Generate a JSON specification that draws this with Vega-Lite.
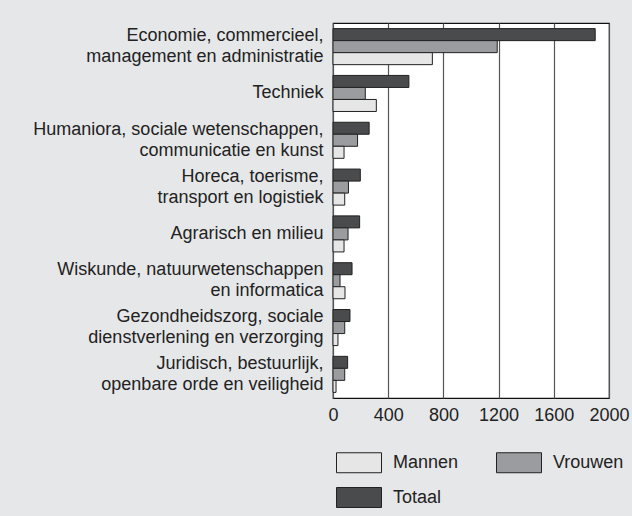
{
  "$schema": "https://vega.github.io/schema/vega-lite/v6.json",
  "autosize": {"type": "none"},
  "width": 276,
  "height": 375,
  "padding": {"left": 333, "top": 23, "right": 23, "bottom": 118},
  "background": "#e6e7e9",
  "config": {
    "font": "Liberation Sans",
    "view": {"stroke": "#111", "strokeWidth": 1.2, "fill": "white"}
  },
  "data": {
    "values": [
      {"sector": "Economie, commercieel,|management en administratie", "groep": "Totaal", "aantal": 1900},
      {"sector": "Economie, commercieel,|management en administratie", "groep": "Vrouwen", "aantal": 1190},
      {"sector": "Economie, commercieel,|management en administratie", "groep": "Mannen", "aantal": 720},
      {"sector": "Techniek", "groep": "Totaal", "aantal": 550},
      {"sector": "Techniek", "groep": "Vrouwen", "aantal": 234},
      {"sector": "Techniek", "groep": "Mannen", "aantal": 314},
      {"sector": "Humaniora, sociale wetenschappen,|communicatie en kunst", "groep": "Totaal", "aantal": 262},
      {"sector": "Humaniora, sociale wetenschappen,|communicatie en kunst", "groep": "Vrouwen", "aantal": 178},
      {"sector": "Humaniora, sociale wetenschappen,|communicatie en kunst", "groep": "Mannen", "aantal": 80},
      {"sector": "Horeca, toerisme,|transport en logistiek", "groep": "Totaal", "aantal": 198},
      {"sector": "Horeca, toerisme,|transport en logistiek", "groep": "Vrouwen", "aantal": 112},
      {"sector": "Horeca, toerisme,|transport en logistiek", "groep": "Mannen", "aantal": 85},
      {"sector": "Agrarisch en milieu", "groep": "Totaal", "aantal": 193},
      {"sector": "Agrarisch en milieu", "groep": "Vrouwen", "aantal": 109},
      {"sector": "Agrarisch en milieu", "groep": "Mannen", "aantal": 80},
      {"sector": "Wiskunde, natuurwetenschappen|en informatica", "groep": "Totaal", "aantal": 138},
      {"sector": "Wiskunde, natuurwetenschappen|en informatica", "groep": "Vrouwen", "aantal": 51},
      {"sector": "Wiskunde, natuurwetenschappen|en informatica", "groep": "Mannen", "aantal": 87},
      {"sector": "Gezondheidszorg, sociale|dienstverlening en verzorging", "groep": "Totaal", "aantal": 123},
      {"sector": "Gezondheidszorg, sociale|dienstverlening en verzorging", "groep": "Vrouwen", "aantal": 85},
      {"sector": "Gezondheidszorg, sociale|dienstverlening en verzorging", "groep": "Mannen", "aantal": 36},
      {"sector": "Juridisch, bestuurlijk,|openbare orde en veiligheid", "groep": "Totaal", "aantal": 106},
      {"sector": "Juridisch, bestuurlijk,|openbare orde en veiligheid", "groep": "Vrouwen", "aantal": 85},
      {"sector": "Juridisch, bestuurlijk,|openbare orde en veiligheid", "groep": "Mannen", "aantal": 22}
    ]
  },
  "mark": {"type": "bar", "stroke": "#222", "strokeWidth": 1},
  "encoding": {
    "y": {
      "field": "sector",
      "type": "nominal",
      "sort": null,
      "scale": {"paddingInner": 0.23, "paddingOuter": 0.12},
      "axis": {
        "title": null,
        "ticks": false,
        "domain": false,
        "labelExpr": "split(datum.label, '|')",
        "labelFontSize": 18,
        "labelColor": "#222",
        "labelPadding": 10,
        "labelLineHeight": 21,
        "labelLimit": 400,
        "labelOffset": {"condition": {"test": "indexof(datum.value, '|') >= 0", "value": -10.5}, "value": 0}
      }
    },
    "yOffset": {
      "field": "groep",
      "type": "nominal",
      "scale": {"domain": ["Totaal", "Vrouwen", "Mannen"], "paddingInner": 0, "paddingOuter": 0}
    },
    "x": {
      "field": "aantal",
      "type": "quantitative",
      "scale": {"domain": [0, 2000], "nice": false},
      "axis": {
        "title": null,
        "values": [0, 400, 800, 1200, 1600, 2000],
        "format": "d",
        "ticks": false,
        "domain": false,
        "gridColor": "#555",
        "gridOpacity": 1,
        "gridWidth": 1.2,
        "labelFontSize": 18,
        "labelColor": "#222",
        "labelPadding": 8,
        "labelFlush": false
      }
    },
    "color": {
      "field": "groep",
      "type": "nominal",
      "scale": {"domain": ["Mannen", "Vrouwen", "Totaal"], "range": ["#e6e6e7", "#9b9c9f", "#4a4b4d"]},
      "legend": {
        "title": null,
        "orient": "none",
        "legendX": 13.5,
        "legendY": 427,
        "columns": 2,
        "direction": "horizontal",
        "symbolType": "M-1.875,-0.833H1.875V0.833H-1.875Z",
        "symbolSize": 576,
        "symbolStrokeColor": "#222",
        "symbolStrokeWidth": 1,
        "symbolOpacity": 1,
        "labelFontSize": 18,
        "labelColor": "#222",
        "labelOffset": 21.5,
        "rowPadding": 10,
        "columnPadding": 36
      }
    }
  }
}
